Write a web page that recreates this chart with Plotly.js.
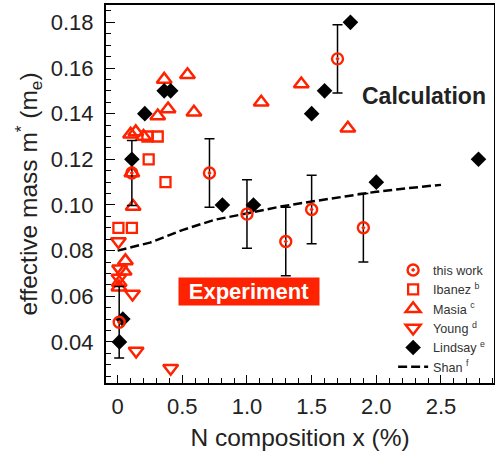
<!DOCTYPE html>
<html>
<head>
<meta charset="utf-8">
<script src="https://cdn.plot.ly/plotly-3.0.1.min.js"></script>
<style>html,body{margin:0;padding:0;background:#fff;}#chart{width:495px;height:451px;}</style>
</head>
<body>
<div id="chart"></div>
<script>
// ---- data ----
const thisWorkX   = [0.012, 0.11, 0.71, 1.0, 1.3, 1.5, 1.7, 1.9];
const thisWorkY   = [0.0486, 0.114, 0.114, 0.096, 0.084, 0.098, 0.164, 0.090];
const thisWorkErr = [0.0157, 0.0142, 0.015, 0.015, 0.015, 0.015, 0.015, 0.015];

const ibanezX = [0.006, 0.11, 0.24, 0.23, 0.31, 0.37];
const ibanezY = [0.090, 0.090, 0.120, 0.130, 0.130, 0.110];

const masiaX = [0.01, 0.012, 0.05, 0.06, 0.11, 0.12, 0.10, 0.14, 0.20, 0.31, 0.36, 0.39, 0.54, 0.59, 1.11, 1.42, 1.78];
const masiaY = [0.064, 0.066, 0.071, 0.0755, 0.114, 0.0993, 0.131, 0.132, 0.130, 0.139, 0.155, 0.142, 0.157, 0.1406, 0.145, 0.153, 0.1336];

const youngX = [0.006, 0.015, 0.01, 0.115, 0.143, 0.41];
const youngY = [0.084, 0.072, 0.068, 0.061, 0.036, 0.0285];

const lindsayX = [0.014, 0.04, 0.11, 0.21, 0.36, 0.41, 0.81, 1.05, 1.5, 1.6, 1.8, 2.0, 2.79];
const lindsayY = [0.040, 0.050, 0.120, 0.140, 0.150, 0.150, 0.100, 0.100, 0.140, 0.150, 0.180, 0.110, 0.120];

const shanX = [0, 0.25, 0.5, 0.75, 1.0, 1.25, 1.5, 1.75, 2.0, 2.25, 2.5];
const shanY = [0.080, 0.0835, 0.089, 0.0935, 0.0963, 0.0992, 0.1015, 0.1035, 0.1058, 0.1074, 0.1088];

const xTickVals = [0, 0.5, 1.0, 1.5, 2.0, 2.5];
const xTickText = ['0', '0.5', '1.0', '1.5', '2.0', '2.5'];

const RED = '#ff2200';
const FONT = 'Liberation Sans, Arial, Helvetica, sans-serif';

const traces = [
  {x: shanX, y: shanY, mode: 'lines', name: 'Shan <sup>f</sup>', legendrank: 6,
   line: {color: 'black', width: 2.5, dash: '9px,4px'}},
  {x: ibanezX, y: ibanezY, mode: 'markers', name: 'Ibanez <sup>b</sup>', legendrank: 2,
   marker: {symbol: 'square-open', size: 10, color: RED, line: {color: RED, width: 2.3}}},
  {x: masiaX, y: masiaY, mode: 'markers', name: 'Masia <sup>c</sup>', legendrank: 3,
   marker: {symbol: 'triangle-up-open', size: 13, color: RED, line: {color: RED, width: 2.5}}},
  {x: youngX, y: youngY, mode: 'markers', name: 'Young <sup>d</sup>', legendrank: 4,
   marker: {symbol: 'triangle-down-open', size: 13, color: RED, line: {color: RED, width: 2.5}}},
  {x: lindsayX, y: lindsayY, mode: 'markers', name: 'Lindsay <sup>e</sup>', legendrank: 5,
   marker: {symbol: 'diamond', size: 12, color: 'black', line: {width: 0}}},
  {x: thisWorkX, y: thisWorkY, mode: 'markers', name: 'this work', legendrank: 1,
   error_y: {type: 'data', array: thisWorkErr, visible: true, color: 'black', thickness: 1.5, width: 5},
   marker: {symbol: 'circle-open-dot', size: 11, color: RED, line: {color: RED, width: 2.4}}}
];

const layout = {
  width: 495, height: 451,
  margin: {l: 106, r: 1, t: 5, b: 68, pad: 0},
  paper_bgcolor: 'white', plot_bgcolor: 'white',
  font: {family: FONT, color: '#222'},
  showlegend: true,
  legend: {x: 0.74, y: 0.338, xanchor: 'left', yanchor: 'top',
           bgcolor: 'rgba(0,0,0,0)', borderwidth: 0,
           font: {family: FONT, size: 12.6, color: '#333'}, tracegroupgap: 0},
  xaxis: {
    range: [-0.09, 2.91], showgrid: false, zeroline: false,
    showline: true, linecolor: 'black', linewidth: 2, mirror: true,
    ticks: 'inside', ticklen: 8, tickwidth: 1, tickcolor: 'black',
    tickvals: xTickVals, ticktext: xTickText,
    tickfont: {family: FONT, size: 22, color: '#222'},
    ticklabelstandoff: 3,
    minor: {dtick: 0.1, tick0: 0, ticks: 'inside', ticklen: 5, tickwidth: 1, tickcolor: 'black', showgrid: false},
    title: {text: 'N composition x (%)', font: {family: FONT, size: 24.5, color: '#222'}, standoff: 10}
  },
  yaxis: {
    range: [0.022, 0.1876], showgrid: false, zeroline: false,
    showline: true, linecolor: 'black', linewidth: 2, mirror: true,
    ticks: 'inside', ticklen: 9, tickwidth: 1, tickcolor: 'black',
    dtick: 0.02, tick0: 0, tickformat: '.2f',
    tickfont: {family: FONT, size: 22, color: '#222'},
    ticklabelstandoff: 6,
    minor: {dtick: 0.005, tick0: 0, ticks: 'inside', ticklen: 5, tickwidth: 1, tickcolor: 'black', showgrid: false},
    title: {text: 'effective mass m<sup>*</sup> (m<sub>e</sub>)', font: {family: FONT, size: 24.5, color: '#222'}, standoff: 6}
  },
  annotations: [
    {x: 2.372, y: 0.1477, xref: 'x', yref: 'y', text: '<b>Calculation</b>', showarrow: false,
     font: {family: FONT, size: 23, color: '#222'}},
    {x: 1.012, y: 0.0621, xref: 'x', yref: 'y', text: '<b>Experiment</b>', showarrow: false,
     font: {family: FONT, size: 22, color: 'white'}, bgcolor: RED, width: 140, height: 27, borderpad: 0}
  ]
};

Plotly.newPlot('chart', traces, layout, {displayModeBar: false, staticPlot: true});
</script>
</body>
</html>
